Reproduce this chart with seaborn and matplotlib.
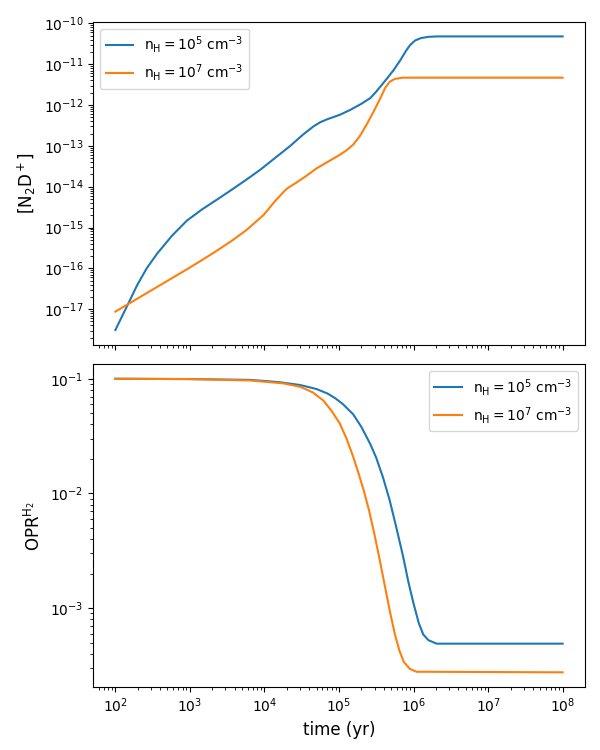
import numpy as np
import matplotlib
matplotlib.use("Agg")
import matplotlib.pyplot as plt
import seaborn as sns

# valores (log10)
labels = [r"$\mathrm{n_H} = 10^5\ \mathrm{cm^{-3}}$", r"$\mathrm{n_H} = 10^7\ \mathrm{cm^{-3}}$"]

n2d_t_1e5 = [2.0, 2.15, 2.29, 2.42, 2.56, 2.76, 2.96, 3.16, 3.36, 3.54, 3.74, 3.94, 4.14, 4.34,
             4.52, 4.66, 4.75, 4.84, 5.01, 5.15, 5.30, 5.42, 5.50, 5.64, 5.73, 5.82, 5.90, 5.95,
             6.02, 6.10, 6.20, 6.31, 7.0, 8.0]
n2d_y_1e5 = [-17.51, -16.95, -16.42, -16.0, -15.64, -15.2, -14.83, -14.56, -14.32, -14.10, -13.85,
             -13.59, -13.30, -13.01, -12.72, -12.52, -12.42, -12.35, -12.24, -12.12, -11.97, -11.83,
             -11.67, -11.36, -11.15, -10.91, -10.67, -10.54, -10.42, -10.36, -10.33, -10.32, -10.32,
             -10.32]

n2d_t_1e7 = [2.0, 2.5, 3.0, 3.3, 3.55, 3.76, 3.99, 4.12, 4.25, 4.30, 4.35, 4.42, 4.55, 4.70, 4.86,
             5.01, 5.10, 5.19, 5.28, 5.37, 5.47, 5.55, 5.62, 5.68, 5.75, 5.86, 6.5, 8.0]
n2d_y_1e7 = [-17.06, -16.52, -15.98, -15.64, -15.34, -15.06, -14.69, -14.40, -14.14, -14.05, -13.99,
             -13.91, -13.75, -13.55, -13.38, -13.22, -13.11, -12.97, -12.76, -12.48, -12.14, -11.85,
             -11.58, -11.43, -11.36, -11.33, -11.33, -11.33]

opr_t_1e5 = [2.0, 3.0, 3.81, 4.2, 4.48, 4.70, 4.85, 4.95, 5.05, 5.19, 5.30, 5.42, 5.50, 5.59,
             5.68, 5.77, 5.86, 5.93, 6.0, 6.07, 6.13, 6.2, 6.31, 8.0]
opr_y_1e5 = [-1.0, -1.003, -1.01, -1.03, -1.055, -1.09, -1.13, -1.17, -1.22, -1.31, -1.42, -1.57,
             -1.69, -1.86, -2.06, -2.30, -2.55, -2.77, -2.96, -3.13, -3.23, -3.28, -3.31, -3.31]

opr_t_1e7 = [2.0, 3.0, 3.81, 4.25, 4.48, 4.65, 4.79, 4.90, 5.01, 5.10, 5.19, 5.26, 5.33, 5.40,
             5.47, 5.54, 5.61, 5.68, 5.75, 5.81, 5.87, 5.95, 6.04, 8.0]
opr_y_1e7 = [-1.0, -1.003, -1.015, -1.04, -1.07, -1.12, -1.19, -1.28, -1.39, -1.52, -1.68, -1.82,
             -1.97, -2.14, -2.34, -2.56, -2.79, -3.02, -3.23, -3.37, -3.47, -3.53, -3.555, -3.56]

cores = sns.color_palette("tab10", 2)

fig, (ax1, ax2) = plt.subplots(2, 1, sharex=True, figsize=(6, 7.5), dpi=100)
fig.subplots_adjust(left=0.155, right=0.975, top=0.971, bottom=0.084, hspace=0.06)

for t, y, lab, c in [(n2d_t_1e5, n2d_y_1e5, labels[0], cores[0]),
                     (n2d_t_1e7, n2d_y_1e7, labels[1], cores[1])]:
    sns.lineplot(x=10 ** np.array(t), y=10 ** np.array(y), ax=ax1, color=c, label=lab,
                 estimator=None, sort=False, linewidth=1.5)

for t, y, lab, c in [(opr_t_1e5, opr_y_1e5, labels[0], cores[0]),
                     (opr_t_1e7, opr_y_1e7, labels[1], cores[1])]:
    sns.lineplot(x=10 ** np.array(t), y=10 ** np.array(y), ax=ax2, color=c, label=lab,
                 estimator=None, sort=False, linewidth=1.5)

for ax in (ax1, ax2):
    ax.set_xscale("log")
    ax.set_yscale("log")

ax1.set_ylabel(r"$[\mathrm{N_2D^+}]$", fontsize=12)
ax2.set_ylabel(r"$\mathrm{OPR^{H_2}}$", fontsize=12)
ax2.set_xlabel("time (yr)", fontsize=12)
ax1.legend(loc="upper left")
ax2.legend(loc="upper right")

plt.savefig("out.png")
plt.close()
